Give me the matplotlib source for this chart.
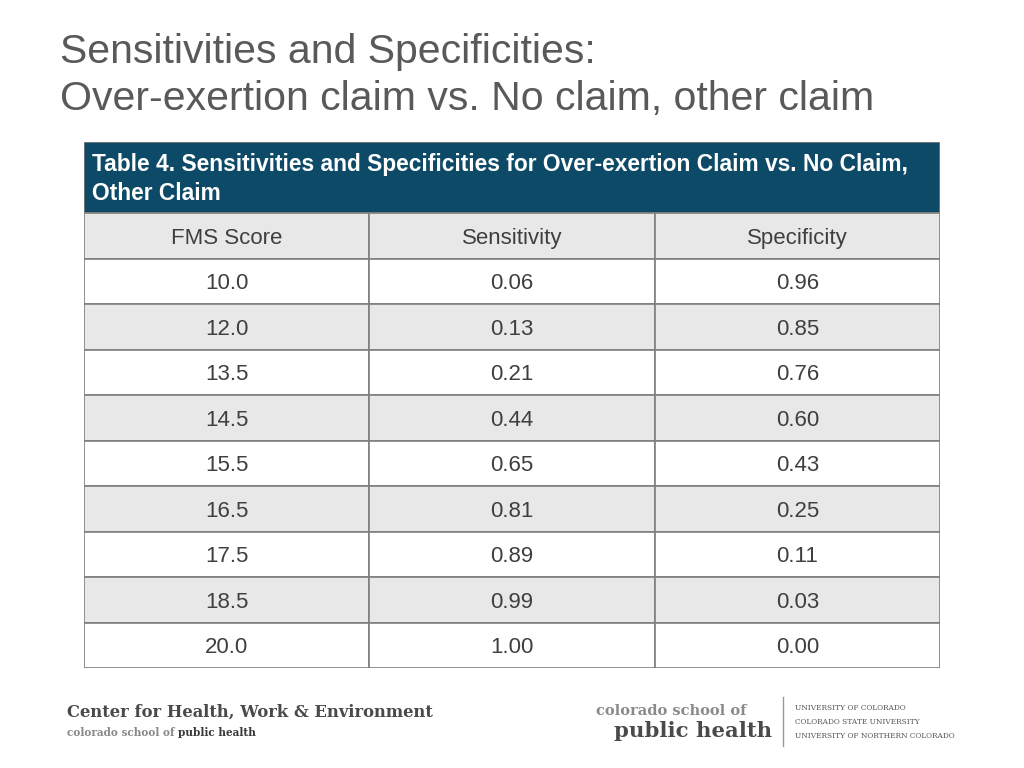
import matplotlib.pyplot as plt
from matplotlib.patches import Rectangle

plt.rcParams['font.family'] = ['Liberation Sans', 'DejaVu Sans']

title_lines = ["Sensitivities and Specificities:", "Over-exertion claim vs. No claim, other claim"]
table_title = "Table 4. Sensitivities and Specificities for Over-exertion Claim vs. No Claim,\nOther Claim"
columns = ["FMS Score", "Sensitivity", "Specificity"]
fms_score = ["10.0", "12.0", "13.5", "14.5", "15.5", "16.5", "17.5", "18.5", "20.0"]
sensitivity = ["0.06", "0.13", "0.21", "0.44", "0.65", "0.81", "0.89", "0.99", "1.00"]
specificity = ["0.96", "0.85", "0.76", "0.60", "0.43", "0.25", "0.11", "0.03", "0.00"]

dark = '#0d4a67'
grey_row = '#e8e8e8'
line_col = '#7f7f7f'
txt_col = '#3f3f3f'

fig = plt.figure(figsize=(10.24, 7.68), dpi=100)
fig.patch.set_facecolor('white')

# slide title
fig.text(60/1024, 1-52/768, title_lines[0], fontsize=29.5, color='#595959', va='center', ha='left')
fig.text(60/1024, 1-99/768, title_lines[1], fontsize=29.5, color='#595959', va='center', ha='left')

# table axes: x in columns, y in rows (header band above row 0)
band = 71/45.5
ax = fig.add_axes([84/1024, 1-668/768, 856/1024, (668-142)/768])
ax.set_xlim(0, 3)
ax.set_ylim(10, -band)
ax.axis('off')

ax.add_patch(Rectangle((0, -band), 3, band, facecolor=dark, edgecolor=line_col, lw=1.2))
ax.text(0.028, -band/2 + 0.04, table_title, color='white', fontsize=16.4, fontweight='bold',
        va='center', ha='left', linespacing=1.35)

rows = [columns] + [list(r) for r in zip(fms_score, sensitivity, specificity)]
for i, row in enumerate(rows):
    fc = grey_row if i % 2 == 0 else 'white'
    for j, val in enumerate(row):
        ax.add_patch(Rectangle((j, i), 1, 1, facecolor=fc, edgecolor=line_col, lw=1.2))
        ax.text(j + 0.5, i + 0.55, val, fontsize=16, color=txt_col, ha='center', va='center')

# footer logos
serif = ['DejaVu Serif']
fig.text(67/1024, 1-712/768, "Center for Health, Work & Environment", family=serif,
         fontsize=11.8, fontweight='bold', color='#4a4a4a', va='center', ha='left')
t1 = fig.text(67/1024, 1-733/768, "colorado school of ", family=serif, fontsize=7.6,
              fontweight='bold', color='#8a8a8a', va='center', ha='left')
r = fig.canvas.get_renderer()
x_end = t1.get_window_extent(r).x1 / fig.bbox.width
fig.text(x_end, 1-733/768, "public health", family=serif, fontsize=7.6,
         fontweight='bold', color='#3a3a3a', va='center', ha='left')

fig.text(596/1024, 1-711/768, "colorado school of", family=serif, fontsize=10.5,
         fontweight='bold', color='#8a8a8a', va='center', ha='left')
fig.text(614/1024, 1-731/768, "public health", family=serif, fontsize=15.3,
         fontweight='bold', color='#4a4a4a', va='center', ha='left')
fig.add_artist(plt.Line2D([783/1024, 783/1024], [1-697/768, 1-746/768], color='#999999', lw=1))
for k, s in enumerate(["UNIVERSITY OF COLORADO", "COLORADO STATE UNIVERSITY",
                       "UNIVERSITY OF NORTHERN COLORADO"]):
    fig.text(795/1024, 1-(708 + 14*k)/768, s, family=serif, fontsize=5.3,
             color='#555555', va='center', ha='left')

fig.savefig('out.png', dpi=100)
